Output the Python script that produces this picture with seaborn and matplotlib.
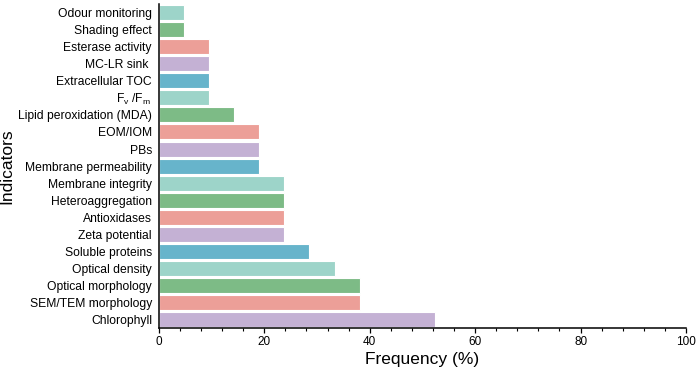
import matplotlib
matplotlib.use("Agg")
import matplotlib.pyplot as plt
import seaborn as sns
import pandas as pd
from matplotlib.ticker import MultipleLocator

# Indicators listed top to bottom, frequency in % of studies
indicators = ["Odour monitoring", "Shading effect", "Esterase activity", "MC-LR sink ",
              "Extracellular TOC", r"F$_\mathregular{v}$ /F$_\mathregular{m}$ ",
              "Lipid peroxidation (MDA)", "EOM/IOM", "PBs", "Membrane permeability",
              "Membrane integrity", "Heteroaggregation", "Antioxidases", "Zeta potential",
              "Soluble proteins", "Optical density", "Optical morphology",
              "SEM/TEM morphology", "Chlorophyll"]
frequency = [4.76, 4.76, 9.52, 9.52, 9.52, 9.52, 14.29, 19.05, 19.05, 19.05,
             23.81, 23.81, 23.81, 23.81, 28.57, 33.33, 38.10, 38.10, 52.38]

# colour cycle repeats from the bottom bar upward
cycle = ["#c4b1d4", "#ec9f98", "#7dbb86", "#9dd4c9", "#67b4cb"]
n = len(indicators)
colors = [cycle[(n - 1 - i) % len(cycle)] for i in range(n)]

df = pd.DataFrame({"indicator": indicators, "frequency": frequency})

sns.set_style("ticks")
plt.rcParams["font.family"] = ["Liberation Sans", "DejaVu Sans"]
plt.rcParams["mathtext.fontset"] = "custom"
plt.rcParams["mathtext.rm"] = "Liberation Sans"
plt.rcParams["text.color"] = "black"
plt.rcParams["axes.labelcolor"] = "black"
plt.rcParams["xtick.color"] = "black"
plt.rcParams["ytick.color"] = "black"

fig = plt.figure(figsize=(7, 3.74), dpi=100)
ax = fig.add_axes([0.227, 0.123, 0.753, 0.866])
sns.barplot(data=df, x="frequency", y="indicator", hue="indicator",
            palette=colors, legend=False, orient="h", width=0.88,
            saturation=1, edgecolor="white", linewidth=0.8, ax=ax)

ax.set_xlim(0, 100)
ax.set_ylim(n - 0.5, -0.5)
ax.xaxis.set_major_locator(MultipleLocator(20))
ax.xaxis.set_minor_locator(MultipleLocator(4))
ax.tick_params(axis="x", which="major", length=3.5, width=0.9, labelsize=8.5, pad=2)
ax.tick_params(axis="x", which="minor", length=2, width=0.8)
ax.tick_params(axis="y", length=0, labelsize=8.7, pad=5)
for side in ["left", "bottom"]:
    ax.spines[side].set_linewidth(1.1)
    ax.spines[side].set_color("black")
sns.despine(ax=ax)

ax.set_xlabel("Frequency (%)", fontsize=12.5, labelpad=3)
ax.set_ylabel("Indicators", fontsize=12.5, labelpad=3)

fig.savefig("out.png", dpi=100)
